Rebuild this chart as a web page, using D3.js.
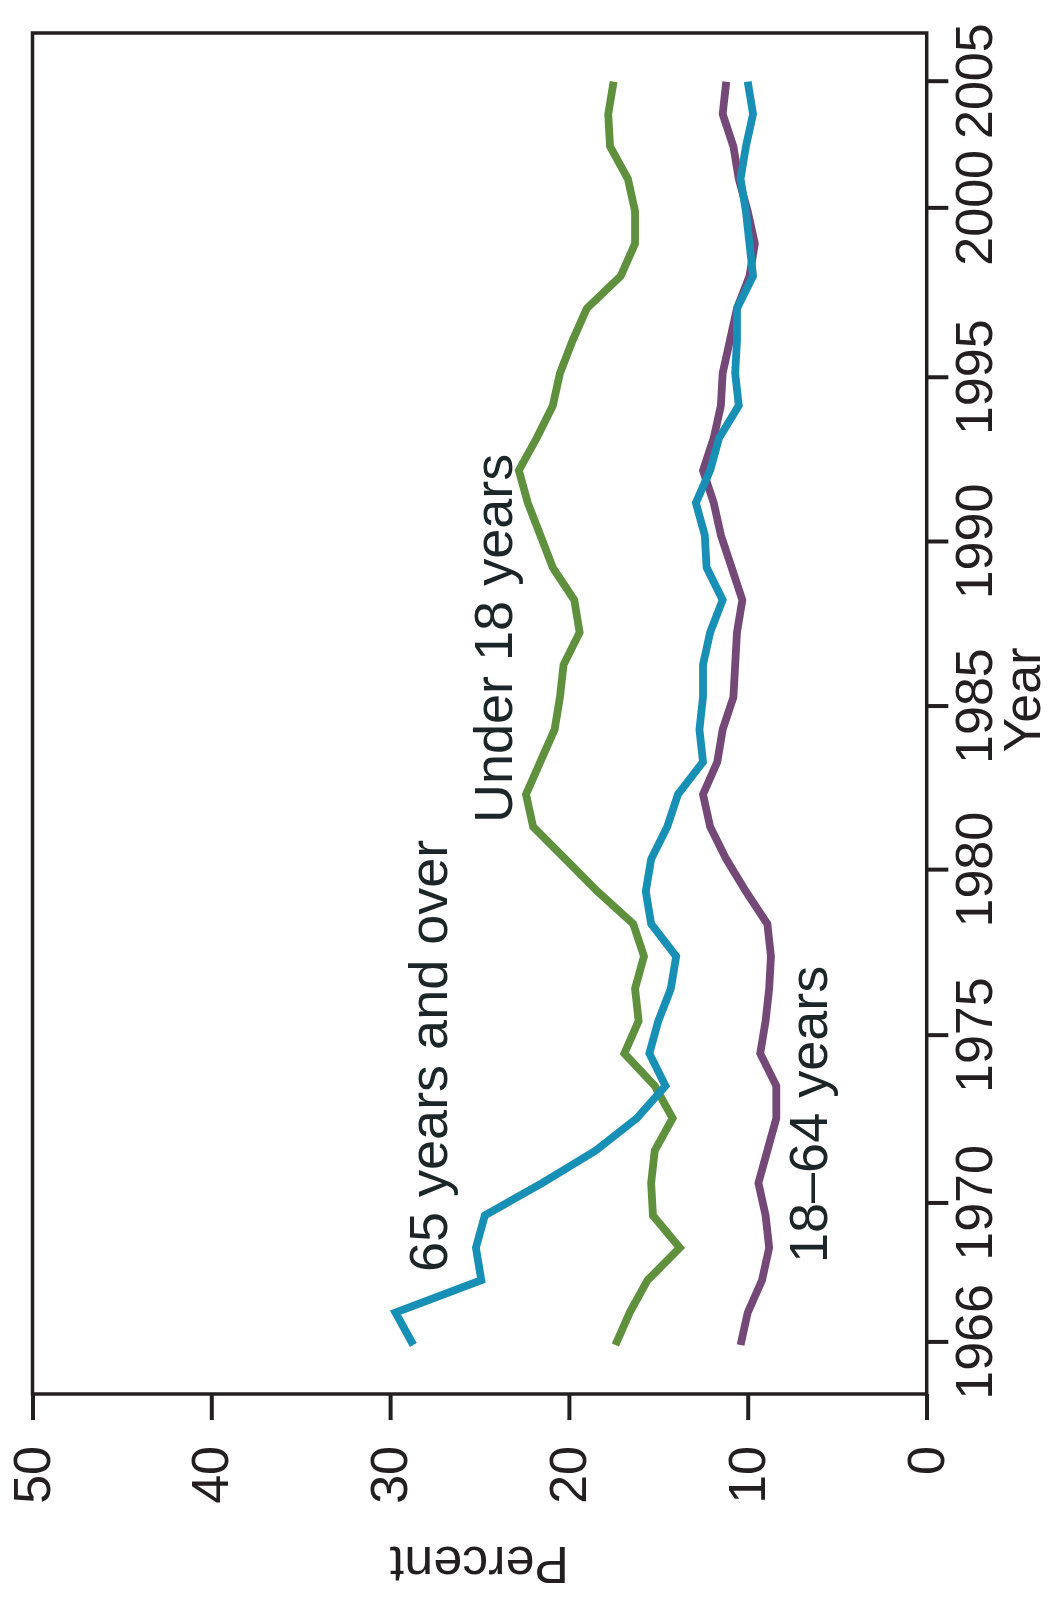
<!DOCTYPE html>
<html><head><meta charset="utf-8">
<script src="https://cdn.jsdelivr.net/npm/d3@7"></script>
<style>
body{margin:0;background:#fff}
text{font-family:"Liberation Sans",Arial,Helvetica,sans-serif}
</style>
</head><body>
<svg id="c" width="1051" height="1600"></svg>
<script>
// ---- data ----
const years = [1966,1967,1968,1969,1970,1971,1972,1973,1974,1975,1976,1977,1978,1979,1980,
  1981,1982,1983,1984,1985,1986,1987,1988,1989,1990,1991,1992,1993,1994,1995,
  1996,1997,1998,1999,2000,2001,2002,2003,2004,2005];
const under18 = [17.4,16.6,15.6,13.8,15.3,15.4,15.2,14.2,15.2,16.9,16.1,16.3,15.8,16.4,18.4,
  20.2,22.0,22.4,21.6,20.8,20.5,20.3,19.4,19.7,20.9,21.6,22.3,22.8,21.8,20.9,
  20.5,19.8,19.0,17.1,16.3,16.3,16.7,17.7,17.8,17.5];
const over65 = [28.7,29.7,24.9,25.2,24.7,21.5,18.5,16.2,14.6,15.5,15.0,14.3,14.0,15.4,15.7,
  15.4,14.5,13.9,12.5,12.7,12.5,12.5,12.1,11.4,12.3,12.4,12.9,12.1,11.6,10.5,
  10.7,10.6,10.6,9.7,9.9,10.1,10.4,10.1,9.7,10.0];
const age18to64 = [10.4,10.0,9.2,8.8,9.0,9.4,8.9,8.4,8.4,9.3,9.0,8.8,8.7,8.9,10.1,
  11.2,12.1,12.5,11.7,11.4,10.8,10.7,10.6,10.3,10.9,11.5,11.9,12.5,11.9,11.5,
  11.4,11.0,10.6,9.9,9.6,10.0,10.5,10.8,11.4,11.2];
const percentTicks = [0,10,20,30,40,50];
const yearTickLabels = ["1966","1970","1975","1980","1985","1990","1995","2000","2005"];
// where each year tick sits on the year scale in the original figure
const yearTickAt = [1966.08,1970.37,1975.55,1980.66,1985.71,1990.79,1995.86,2001.09,2005.0];

// ---- layout (chart drawn in a frame rotated -90deg) ----
const svg = d3.select("#c");
const g = svg.append("g").attr("transform","translate(0,1600) rotate(-90)");
const ink = "#231f20";
const x = d3.scaleLinear().domain([1966,2005]).range([255,1518.3]);
const y = d3.scaleLinear().domain([0,50]).range([926.5,32.5]);

// frame
g.append("rect").attr("x",206).attr("y",32.5).attr("width",1567-206).attr("height",926.7-32.5)
  .attr("fill","none").attr("stroke",ink).attr("stroke-width",3.5);

// percent axis
const ay = g.append("g").attr("transform","translate(206,0)")
  .call(d3.axisLeft(y).tickValues(percentTicks).tickSize(26).tickPadding(26).tickFormat(d3.format("d")));
ay.select(".domain").remove();
ay.selectAll(".tick line").attr("stroke",ink).attr("stroke-width",4);
ay.selectAll(".tick text").attr("fill",ink).style("font-size","52px");

// year axis
const ax = g.append("g").attr("transform","translate(0,926.7)")
  .call(d3.axisBottom(x).tickValues(yearTickAt).tickSize(21.6).tickPadding(6.7)
    .tickFormat((d,i)=>yearTickLabels[i]));
ax.select(".domain").remove();
ax.selectAll(".tick line").attr("stroke",ink).attr("stroke-width",4);
ax.selectAll(".tick text").attr("fill",ink).style("font-size","52px");

// axis titles
g.append("text").attr("x",900).attr("y",1040).attr("text-anchor","middle")
  .attr("fill",ink).style("font-size","52px").text("Year");
g.append("text").attr("transform","translate(53.3,479.5) rotate(-90)").attr("text-anchor","middle")
  .attr("fill",ink).style("font-size","52px").text("Percent");

// series
const line = d3.line().x((d,i)=>x(years[i])).y(d=>y(d));
const series = [
  {name:"65 years and over", values: over65, color:"#1890b6", lx:328, ly:447},
  {name:"Under 18 years", values: under18, color:"#5f903d", lx:777, ly:512},
  {name:"18\u201364 years", values: age18to64, color:"#744978", lx:337, ly:827}
];
const drawOrder = [series[1], series[2], series[0]];
drawOrder.forEach(s=>{
  g.append("path").attr("d",line(s.values)).attr("fill","none")
    .attr("stroke",s.color).attr("stroke-width",7.8)
    .attr("stroke-linejoin","miter").attr("stroke-linecap","butt");
});
series.forEach(s=>{
  g.append("text").attr("x",s.lx).attr("y",s.ly).attr("fill","#1c2629")
    .style("font-size","54px").text(s.name);
});
</script>
</body></html>
